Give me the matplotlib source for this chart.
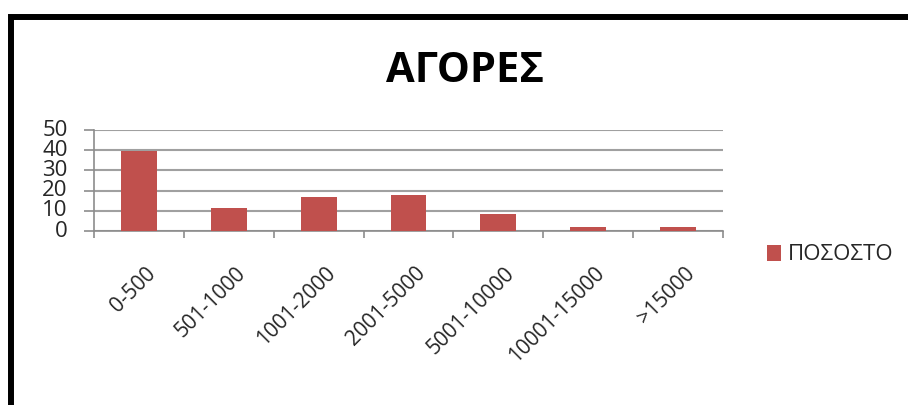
import matplotlib
matplotlib.use("Agg")
import matplotlib.pyplot as plt
from matplotlib.patches import Rectangle
from matplotlib.transforms import ScaledTranslation

# δεδομένα
categories = ["0-500", "501-1000", "1001-2000", "2001-5000", "5001-10000", "10001-15000", ">15000"]
values = [39.5, 11.4, 16.6, 17.6, 8.5, 2.0, 2.0]
series_name = "ΠΟΣΟΣΤΟ"
title = "ΑΓΟΡΕΣ"
yticks = [0, 10, 20, 30, 40, 50]

plt.rcParams['font.family'] = ['Open Sans', 'DejaVu Sans']

W, H = 908, 405
fig = plt.figure(figsize=(W / 100, H / 100), dpi=100)

# περίγραμμα
fig.add_artist(Rectangle((10.5 / W, -0.2), 1.5, 1 - 17 / H + 0.2, transform=fig.transFigure,
                         fill=False, edgecolor='black', linewidth=4.3))

ax = fig.add_axes([94 / W, 1 - 231 / H, (723 - 94) / W, (231 - 130) / H])

x = list(range(len(categories)))
ax.bar(x, values, width=0.4, color='#c0504d', label=series_name, zorder=3)

ax.set_xlim(-0.5, len(categories) - 0.5)
ax.set_ylim(0, 50)
ax.set_yticks(yticks)
ax.yaxis.grid(True, color='#a0a0a0', linewidth=1.5)
ax.set_axisbelow(True)

for s in ['top', 'right']:
    ax.spines[s].set_visible(False)
for s in ['left', 'bottom']:
    ax.spines[s].set_color('#8c8c8c')
    ax.spines[s].set_linewidth(1.2)

ax.tick_params(axis='y', length=7, width=1.2, color='#8c8c8c', labelsize=16, pad=12,
               labelcolor='#262626')
for lbl in ax.get_yticklabels():
    lbl.set_verticalalignment('center')

# όρια κατηγοριών ως major ticks, ετικέτες στο κέντρο ως minor
ax.set_xticks([i - 0.5 for i in range(len(categories) + 1)])
ax.set_xticklabels([])
ax.tick_params(axis='x', which='major', length=5, width=1.2, color='#8c8c8c')
ax.set_xticks(x, minor=True)
ax.set_xticklabels(categories, minor=True, rotation=45, ha='right', rotation_mode='anchor', fontsize=15)
ax.tick_params(axis='x', which='minor', length=0, pad=23, labelcolor='#262626')
shift = ScaledTranslation(6 / 100, 0, fig.dpi_scale_trans)
for lbl in ax.get_xticklabels(minor=True):
    lbl.set_transform(lbl.get_transform() + shift)

fig.text(465 / W, 1 - 71 / H, title, ha='center', va='center', fontsize=30, fontweight='bold')

fig.legend(loc='center left', bbox_to_anchor=(767 / W, 1 - 255 / H), frameon=False,
           fontsize=16, handlelength=0.65, handleheight=0.7, handletextpad=0.3, borderpad=0,
           borderaxespad=0, labelcolor='#262626')

fig.savefig("out.png", dpi=100)
